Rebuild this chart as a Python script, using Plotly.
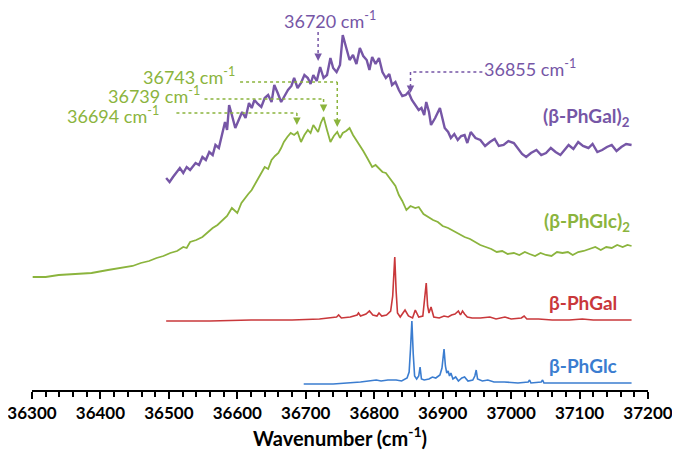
import plotly.graph_objects as go

# wavenumbers (cm-1) and relative intensities
gal2_wn = [36496, 36501, 36506, 36511, 36516, 36521, 36526, 36531, 36535, 36539, 36544, 36549, 36554,
           36559, 36564, 36568, 36573, 36578, 36582, 36585, 36588, 36592, 36597, 36602, 36607, 36612,
           36617, 36621, 36625, 36630, 36635, 36640, 36645, 36650, 36654, 36659, 36664, 36669, 36674,
           36679, 36683, 36688, 36693, 36698, 36703, 36707, 36711, 36716, 36721, 36726, 36731, 36736,
           36740, 36745, 36750, 36754, 36757, 36760, 36764, 36769, 36774, 36779, 36784, 36789, 36793,
           36797, 36802, 36807, 36812, 36817, 36822, 36826, 36831, 36836, 36841, 36846, 36850, 36855,
           36860, 36865, 36869, 36873, 36876, 36880, 36883, 36889, 36896, 36900, 36903, 36908, 36912,
           36917, 36922, 36927, 36932, 36936, 36941, 36948, 36955, 36962, 36969, 36976, 36982, 36989,
           36996, 37004, 37010, 37016, 37022, 37029, 37037, 37044, 37051, 37058, 37065, 37072, 37078,
           37084, 37091, 37098, 37105, 37113, 37119, 37126, 37133, 37140, 37147, 37154, 37161, 37168, 37176]
gal2_int = [12, 8, 13, 18, 22, 17, 23, 20, 24, 27, 25, 33, 30, 38, 35, 45, 42, 55, 68, 60, 85, 75, 62,
            70, 78, 72, 87, 82, 90, 86, 83, 92, 95, 88, 105, 97, 88, 94, 100, 104, 112, 102, 107, 115,
            112, 106, 115, 109, 123, 112, 115, 132, 122, 118, 125, 155, 148, 142, 130, 135, 126, 142, 134,
            130, 120, 133, 126, 132, 118, 112, 116, 105, 108, 100, 94, 95, 98, 90, 85, 80, 82, 75, 88, 78,
            65, 72, 82, 70, 62, 58, 52, 56, 50, 54, 55, 47, 58, 52, 50, 44, 48, 51, 44, 45, 49, 47, 42,
            36, 33, 37, 40, 35, 37, 42, 38, 35, 40, 45, 41, 48, 44, 42, 46, 38, 40, 43, 45, 39, 43, 46, 45]

glc2_wn = [36301, 36320, 36339, 36363, 36387, 36411, 36435, 36447, 36459, 36471, 36482, 36492, 36502,
           36512, 36521, 36526, 36531, 36540, 36549, 36557, 36564, 36571, 36578, 36585, 36592, 36600,
           36606, 36611, 36616, 36621, 36626, 36631, 36635, 36640, 36645, 36650, 36655, 36660, 36664,
           36668, 36673, 36678, 36683, 36688, 36693, 36698, 36703, 36707, 36711, 36715, 36718, 36722,
           36726, 36731, 36736, 36741, 36746, 36750, 36754, 36759, 36764, 36769, 36774, 36779, 36784,
           36789, 36793, 36797, 36802, 36807, 36812, 36817, 36822, 36826, 36831, 36836, 36841, 36847,
           36853, 36860, 36865, 36872, 36879, 36886, 36893, 36900, 36908, 36916, 36924, 36932, 36940,
           36948, 36955, 36963, 36971, 36979, 36987, 36995, 37004, 37012, 37020, 37027, 37035, 37043,
           37051, 37059, 37067, 37075, 37083, 37090, 37098, 37106, 37114, 37123, 37131, 37139, 37147,
           37155, 37163, 37170, 37176]
glc2_int = [1, 1, 3, 4, 5, 8, 11, 12, 15, 17, 20, 22, 25, 27, 31, 30, 36, 38, 41, 46, 50, 53, 58, 62,
            70, 65, 75, 80, 84, 88, 94, 101, 106, 111, 109, 118, 122, 125, 130, 136, 141, 145, 143, 146,
            136, 143, 148, 145, 153, 149, 146, 155, 161, 148, 136, 142, 146, 140, 145, 147, 150, 143, 138,
            132, 127, 121, 116, 111, 113, 110, 106, 105, 100, 96, 92, 83, 77, 68, 72, 70, 71, 64, 61, 58,
            56, 52, 50, 47, 44, 41, 39, 36, 33, 31, 29, 26, 27, 24, 25, 23, 26, 24, 22, 25, 23, 22, 26, 25,
            26, 23, 26, 27, 29, 31, 28, 31, 30, 33, 31, 33, 32]

gal_wn = [36496, 36560, 36620, 36680, 36720, 36735, 36745, 36748, 36752, 36765, 36775, 36777, 36780,
          36788, 36793, 36798, 36804, 36807, 36811, 36818, 36824, 36827, 36828, 36830, 36832, 36834,
          36838, 36845, 36850, 36856, 36860, 36865, 36871, 36873, 36876, 36878, 36880, 36883, 36887,
          36895, 36902, 36908, 36913, 36918, 36923, 36926, 36929, 36932, 36936, 36943, 36955, 36969,
          36978, 36991, 37000, 37015, 37019, 37023, 37040, 37060, 37085, 37104, 37120, 37150, 37176]
gal_int = [0, 0, 1, 1, 2, 3, 4, 6, 3, 4, 6, 8, 5, 7, 10, 6, 5, 8, 5, 6, 10, 25, 45, 64, 30, 8, 4, 11,
           5, 3, 11, 4, 5, 18, 38, 15, 8, 14, 4, 3, 5, 4, 6, 7, 10, 6, 10, 7, 4, 3, 3, 4, 2, 4, 2, 3, 5, 2,
           2, 1, 1, 2, 1, 1, 1]

glc_wn = [36697, 36740, 36780, 36795, 36803, 36810, 36820, 36832, 36840, 36848, 36851, 36853, 36855,
          36857, 36859, 36862, 36865, 36867, 36869, 36873, 36880, 36885, 36890, 36896, 36899, 36902,
          36904, 36906, 36908, 36910, 36912, 36915, 36919, 36923, 36928, 36932, 36937, 36944, 36947,
          36949, 36951, 36958, 36966, 36975, 36990, 37010, 37025, 37027, 37029, 37044, 37046, 37048,
          37070, 37100, 37140, 37176]
glc_int = [0, 0, 2, 3, 4, 3, 4, 4, 3, 6, 12, 35, 63, 30, 8, 5, 8, 17, 5, 4, 5, 7, 6, 9, 16, 35, 18,
           11, 13, 8, 11, 5, 7, 3, 6, 7, 3, 4, 8, 14, 5, 3, 4, 2, 2, 1, 2, 4, 1, 2, 4, 1, 1, 1, 1, 1]

# stacking offsets and colours
series = [
    ("β-PhGlc", glc_wn, glc_int, 6, "#3b7dd0", 1.6),
    ("β-PhGal", gal_wn, gal_int, 69, "#c9383b", 1.6),
    ("(β-PhGlc)2", glc2_wn, glc2_int, 112, "#8bb43d", 1.8),
    ("(β-PhGal)2", gal2_wn, gal2_int, 200, "#7656a6", 2.4),
]

labels = ["β-PhGlc", "β-PhGal", "(β-PhGlc)<sub>2</sub>", "(β-PhGal)<sub>2</sub>"]
label_x = [37158, 37158, 37176, 37176]
label_y = [25, 88, 168, 273]

font = "Lato"

fig = go.Figure()
for name, wn, inten, off, col, w in series:
    fig.add_trace(go.Scatter(
        x=wn, y=[v + off for v in inten],
        mode="lines", name=name,
        line=dict(color=col, width=w),
        hoverinfo="x",
    ))

purple = series[3][4]
green = series[2][4]

for i, txt in enumerate(labels):
    fig.add_annotation(x=label_x[i], y=label_y[i], text="<b>" + txt + "</b>",
                       showarrow=False, xanchor="right",
                       font=dict(family=font, size=19, color=series[i][4]))

# peak markers
peaks = [
    # text, colour, text x, text y, anchor, corner x, line y, tip y
    ("36720", purple, 36736, 370, "center", 36718, 358, 329),
    ("36855", purple, 37028, 322, "center", 36853, 318, 297),
    ("36743", green, 36600, 314, "right", 36746, 308, 263),
    ("36739", green, 36549, 295, "right", 36726, 291, 278),
    ("36694", green, 36489, 275, "right", 36687, 277, 265),
]
line_start = [None, 36958, 36604, 36552, 36511]

for k, (val, col, tx, ty, anc, cx, ly, tip) in enumerate(peaks):
    fig.add_annotation(x=tx, y=ty, text=val + " cm<sup>-1</sup>", showarrow=False,
                       xanchor=anc, font=dict(family=font, size=18, color=col))
    if line_start[k] is not None:
        fig.add_shape(type="line", x0=line_start[k], x1=cx, y0=ly, y1=ly,
                      line=dict(color=col, width=1.5, dash="dot"))
    fig.add_shape(type="line", x0=cx, x1=cx, y0=ly, y1=tip + 6,
                  line=dict(color=col, width=1.5, dash="dot"))
    fig.add_annotation(x=cx, y=tip, ax=cx, ay=tip + 7, axref="x", ayref="y",
                       text="", showarrow=True, arrowhead=2, arrowsize=1,
                       arrowwidth=1.5, arrowcolor=col, standoff=0)

# the page puts the figure 8px in from the top-left corner, so margins allow for it
fig.update_layout(
    width=680, height=450,
    margin=dict(l=24, r=40, t=0, b=68),
    plot_bgcolor="white", paper_bgcolor="white",
    showlegend=False,
    font=dict(family=font, color="black"),
)
fig.update_xaxes(
    range=[36300, 37200], dtick=100, tick0=36300, tickformat="d",
    showgrid=False, zeroline=False,
    showline=True, linecolor="black", linewidth=2,
    ticks="outside", ticklen=7, tickwidth=2, tickcolor="black",
    minor=dict(dtick=20, ticks="outside", ticklen=5, tickwidth=1.5, tickcolor="black"),
    tickfont=dict(family=font, size=17, color="black", weight="bold"),
    ticklabeloverflow="allow",
    title=dict(text="<b>Wavenumber (cm<sup>-1</sup>)</b>",
               font=dict(family=font, size=20, color="black"), standoff=6),
)
fig.update_yaxes(range=[0, 382], visible=False, showgrid=False)

fig.write_html("out.html")
